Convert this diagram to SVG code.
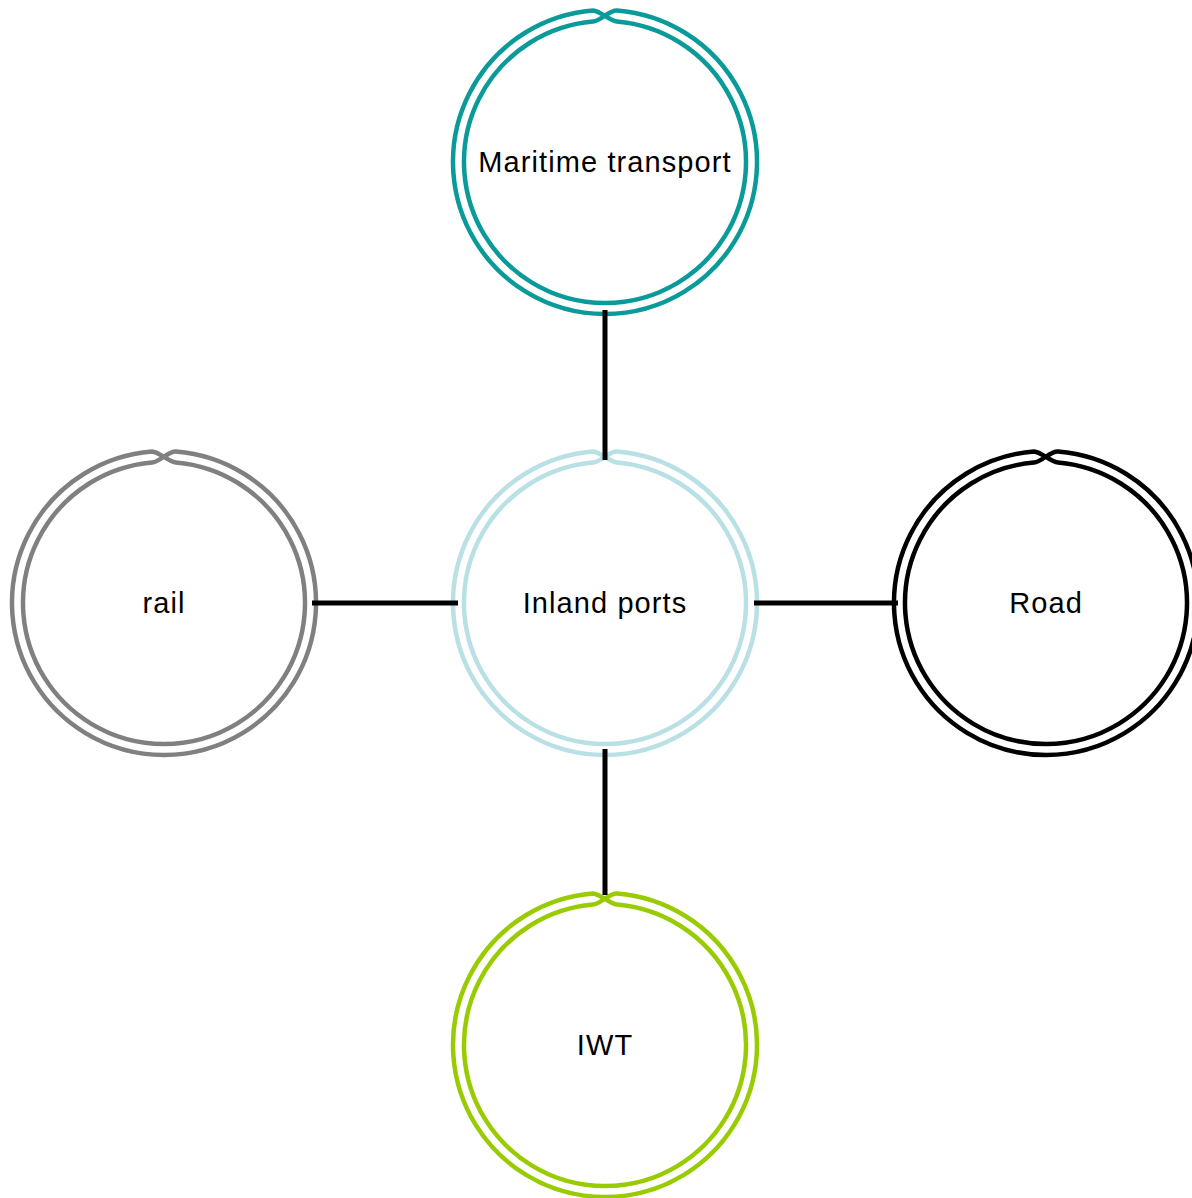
<svg xmlns="http://www.w3.org/2000/svg" width="1192" height="1198" viewBox="0 0 1192 1198">
<defs>
<style>
.ring{fill:none;stroke-width:4.5}
.lbl{font-family:"Liberation Sans",Arial,sans-serif;font-size:29px;letter-spacing:1.1px;fill:#000;text-anchor:middle}
.conn{stroke:#000;stroke-width:5;fill:none}
</style>
<path id="ring" d="M12,-151.53 A152,152 0 1 1 -12,-151.53 C-4,-151 4,-141 12,-140.49 A141,141 0 1 1 -12,-140.49 C-4,-141 4,-152 12,-151.53 Z"/>
</defs>
<rect width="1192" height="1198" fill="#fff"/>
<g id="maritime" transform="translate(605,162)">
<use href="#ring" class="ring" stroke="#0a9a9a"/>
<text class="lbl" x="0" y="10">Maritime transport</text>
</g>
<g id="inland" transform="translate(605,603)">
<use href="#ring" class="ring" stroke="#b9e0e5"/>
<text class="lbl" x="0" y="10">Inland ports</text>
</g>
<g id="rail" transform="translate(164,603)">
<use href="#ring" class="ring" stroke="#808080"/>
<text class="lbl" x="0" y="10">rail</text>
</g>
<g id="road" transform="translate(1046,603)">
<use href="#ring" class="ring" stroke="#000"/>
<text class="lbl" x="0" y="10">Road</text>
</g>
<g id="iwt" transform="translate(605,1045)">
<use href="#ring" class="ring" stroke="#99cc00"/>
<text class="lbl" x="0" y="10">IWT</text>
</g>
<g id="connectors">
<line class="conn" x1="605" y1="310" x2="605" y2="460"/>
<line class="conn" x1="312" y1="603" x2="458" y2="603"/>
<line class="conn" x1="754" y1="603" x2="898" y2="603"/>
<line class="conn" x1="605" y1="749" x2="605" y2="895"/>
</g>
</svg>
